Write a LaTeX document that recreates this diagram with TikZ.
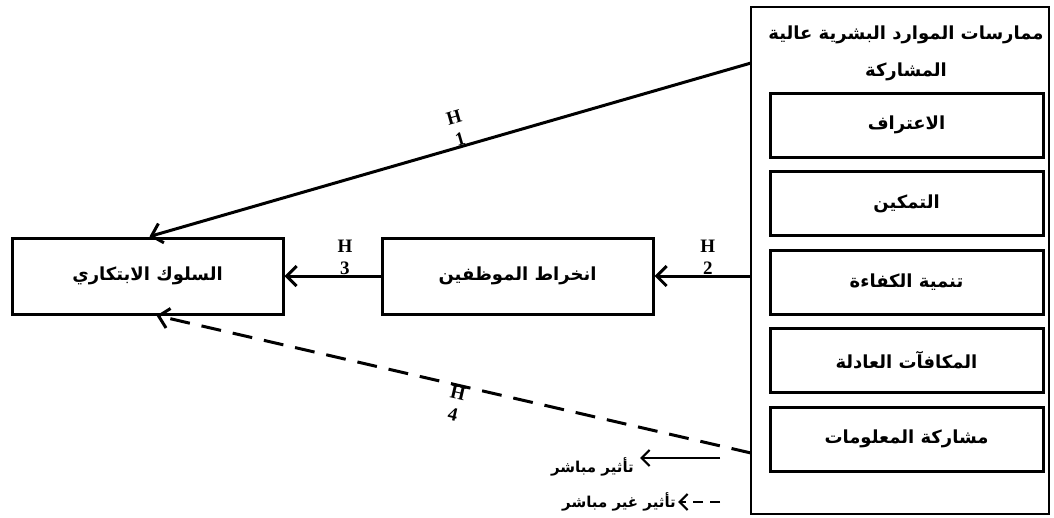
\documentclass[tikz,border=0pt]{standalone}
\usepackage{fontspec}
\newfontfamily\arabicfont[Script=Arabic]{DejaVu Sans}
\newfontfamily\hypfont{Liberation Serif}
\TeXXeTstate=1
\usetikzlibrary{arrows.meta,positioning}
\newcommand{\artext}[1]{\arabicfont\bfseries\beginR #1\endR}

\begin{document}
\begin{tikzpicture}[x=1pt,y=-1pt,node distance=11.5pt,
    box/.style={draw,line width=3pt,minimum width=271pt,minimum height=76pt,inner sep=0pt,font=\fontsize{18}{22}\selectfont},
    item/.style={draw,line width=3pt,minimum width=273pt,minimum height=64pt,inner sep=0pt,font=\fontsize{18}{22}\selectfont},
    hyp/.style={font=\hypfont\fontsize{19}{22}\selectfont\bfseries,align=center,inner sep=0pt},
    link/.style={line width=3pt,-{Straight Barb[length=10pt,width=20pt]}},
    legend/.style={font=\fontsize{15}{18}\selectfont,inner sep=0pt},
    legarrow/.style={line width=2.2pt,-{Straight Barb[length=8pt,width=16pt]}}]
    \useasboundingbox (0,0) rectangle (1054,517);
    % the practices frame
    \node[draw,line width=2.8pt,minimum width=298pt,minimum height=507pt,inner sep=0pt] (P) at (900,260.5) {};
    \node[align=center,font=\fontsize{18}{37}\selectfont] (T) at (906,53) {\artext{ممارسات الموارد البشرية عالية}\\\artext{المشاركة}};
    \node[item] (R1) at (906.5,125) {\artext{الاعتراف}};
    \node[item] (R2) [below=of R1] {\artext{التمكين}};
    \node[item] (R3) [below=of R2] {\artext{تنمية الكفاءة}};
    \node[item] (R4) [below=of R3] {\artext{المكافآت العادلة}};
    \node[item] (R5) [below=of R4] {\artext{مشاركة المعلومات}};

    \node[box] (B) at (147.5,276) {\artext{السلوك الابتكاري}};
    \node[box] (E) at (517.5,276) {\artext{انخراط الموظفين}};

    \coordinate (a1) at (751,63);
    \coordinate (a4) at (751,453);

    \draw[link] (a1) -- node[hyp,sloped,above,pos=0.48] {H\\1} ([xshift=2pt]B.north);
    \draw[link] (E -| P.west) -- node[hyp,above,pos=0.44] {H\\2} (E.east);
    \draw[link] (E.west) -- node[hyp,above,pos=0.37] {H\\3} (B.east);
    \draw[link,dash pattern=on 20pt off 12pt] (a4) -- node[hyp,sloped,below,pos=0.49] {H\\4} ([xshift=9pt]B.south);

    % legend
    \coordinate (l1) at (720,458);
    \coordinate (l2) at (720,502);
    \node[legend,anchor=east,inner xsep=6pt] (D) at (640,467) {\artext{تأثير مباشر}};
    \node[legend,anchor=east,inner xsep=2pt] (I) at (678,502) {\artext{تأثير غير مباشر}};
    \draw[legarrow] (l1) -- (D.east |- l1);
    \draw[legarrow,dash pattern=on 10pt off 7pt] (l2) -- (I.east);
\end{tikzpicture}
\end{document}
